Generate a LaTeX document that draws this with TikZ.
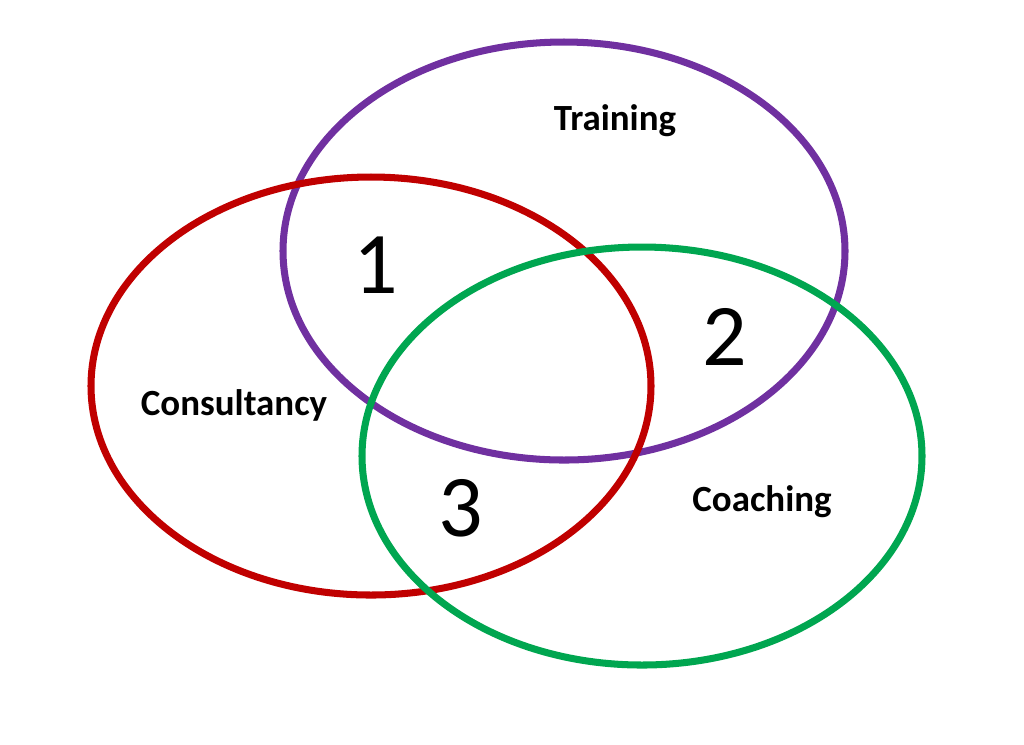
\documentclass[tikz,border=0pt]{standalone}
\usepackage{fontspec}
\setmainfont{Carlito}
\usetikzlibrary{arrows}

\begin{document}
\begin{tikzpicture}[x=0.01cm,y=-0.01cm,
    ring/.style={line width=2pt},
    setlabel/.style={font=\fontsize{10.5pt}{12pt}\selectfont\bfseries},
    zonenum/.style={font=\fontsize{25pt}{30pt}\selectfont}]

        \useasboundingbox (0,0) rectangle (1024,744);
        \draw[ring, draw={rgb,255:red,112;green,48;blue,160}] (564,251) ellipse [x radius=281, y radius=209];
        \draw[ring, draw={rgb,255:red,192;green,0;blue,0}] (371,386) ellipse [x radius=280, y radius=209];
        \draw[ring, draw={rgb,255:red,0;green,166;blue,80}] (642,456) ellipse [x radius=280, y radius=209];
        \node[setlabel] (training) at (615,121) {Training};
        \node[setlabel] (consultancy) at (234,405) {Consultancy};
        \node[setlabel] (coaching) at (762,502) {Coaching};
        \node[zonenum] (one) at (376,265) {1};
        \node[zonenum] (two) at (725,337) {2};
        \node[zonenum] (three) at (461,508) {3};
            \end{tikzpicture}
\end{document}
